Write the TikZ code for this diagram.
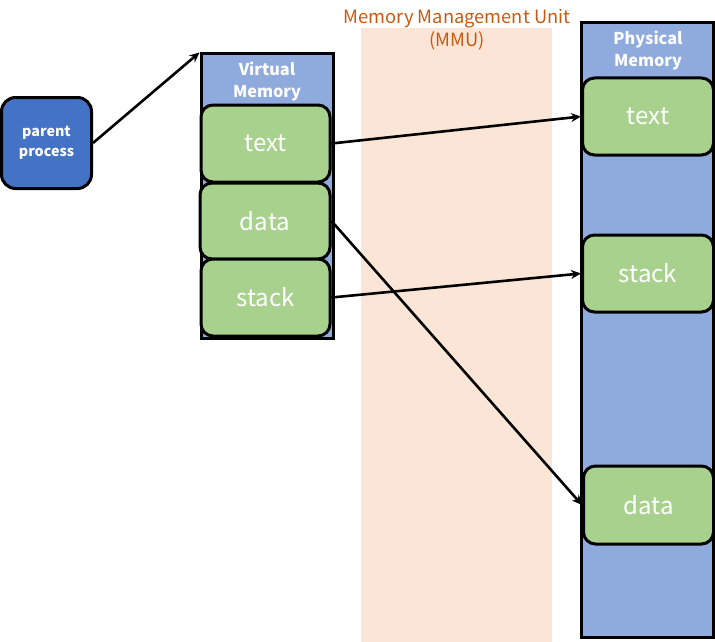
\documentclass[tikz,border=0pt]{standalone}
\usepackage{fontspec}
\setmainfont{Noto Sans CJK KR}
\usetikzlibrary{arrows.meta}
\definecolor{pblue}{HTML}{4472C4}
\definecolor{lblue}{HTML}{8FAADC}
\definecolor{lgreen}{HTML}{A9D18E}
\definecolor{peach}{HTML}{FBE5D6}
\definecolor{orng}{HTML}{C55A11}
\tikzset{
  memcol/.style={draw=black, line width=3pt, fill=lblue, inner sep=0pt},
  segbox/.style={draw=black, line width=3pt, fill=lgreen, rounded corners=12pt, inner sep=0pt, text=white, font=\fontsize{24}{26}\selectfont},
  proc/.style={draw=black, line width=3pt, fill=pblue, rounded corners=14pt, inner sep=0pt, text=white, font=\bfseries\fontsize{14.3}{20}\selectfont, align=center},
  hdr/.style={text=white, font=\bfseries\fontsize{16.3}{21.5}\selectfont, align=center, inner sep=0pt},
  mmutitle/.style={text=orng, font=\fontsize{18.3}{23}\selectfont, align=center, inner sep=0pt},
  conn/.style={draw=black, line width=2.6pt, -{Stealth[length=10pt,width=9pt]}}
}
\begin{document}
\begin{tikzpicture}[x=1pt,y=-1pt]
\useasboundingbox (0,0) rectangle (715,642);
\fill[peach] (361,28) rectangle (552,642);
\node[mmutitle] (mmu) at (457,30) {Memory Management Unit\\(MMU)};
\node[memcol, minimum width=132pt, minimum height=284pt] (vm) at (267,196) {};
\node[hdr] (vmh) at (267,81.5) {Virtual\\Memory};
\node[memcol, minimum width=132pt, minimum height=614pt] (pm) at (647.5,330) {};
\node[hdr] (pmh) at (648,50.5) {Physical\\Memory};
\node[segbox, minimum width=129pt, minimum height=77pt] (vtext) at (265.5,143.5) {text};
\node[segbox, minimum width=130pt, minimum height=76pt] (vdata) at (265,221) {data};
\node[segbox, minimum width=129pt, minimum height=77pt] (vstack) at (265.5,297.5) {stack};
\node[segbox, minimum width=131pt, minimum height=77pt] (ptext) at (648,116.5) {text};
\node[segbox, minimum width=131pt, minimum height=77pt] (pstack) at (648,273.5) {stack};
\node[segbox, minimum width=130pt, minimum height=78pt] (pdata) at (648.5,505) {data};
\node[proc, minimum width=90pt, minimum height=91pt] (parent) at (46.5,143) {parent\\process};
\draw[conn] (parent.east) -- (vm.north west);
\draw[conn] (vtext.east) -- (ptext.west);
\draw[conn] (vstack.east) -- (pstack.west);
\draw[conn] (vdata.east) -- (pdata.west);
\end{tikzpicture}
\end{document}
